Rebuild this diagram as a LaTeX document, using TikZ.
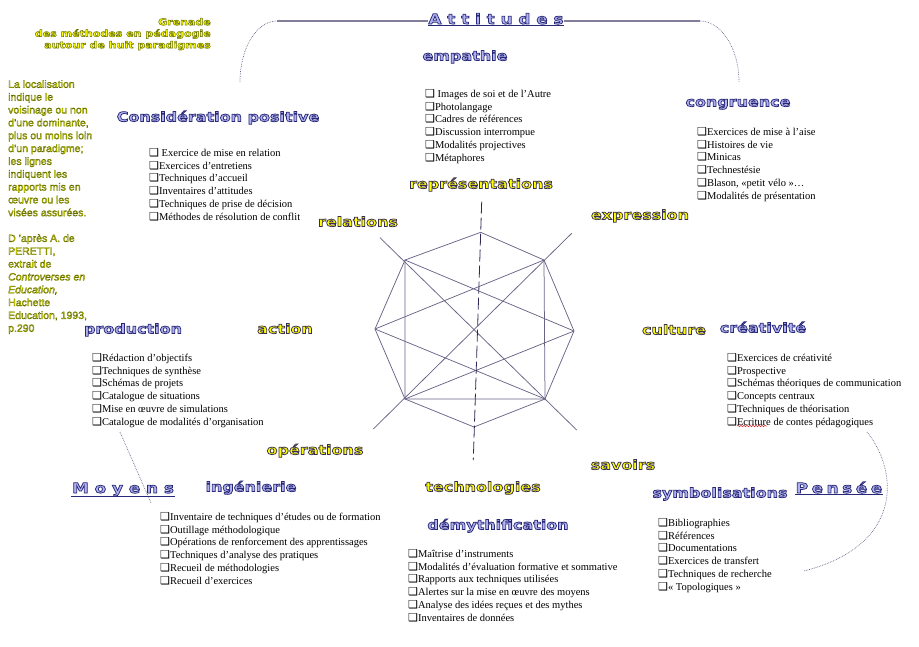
\documentclass[tikz,border=0pt]{standalone}
\usepackage{fontspec}
\usetikzlibrary{decorations.pathmorphing}
\setmainfont{Liberation Serif}
\newfontfamily\headfont[FakeStretch=1.2]{DejaVu Sans}
\newfontfamily\notefont{Liberation Sans}
\newfontfamily\symfont{DejaVu Sans}
\definecolor{lavfill}{RGB}{178,178,240}
\definecolor{yelfill}{RGB}{255,255,0}
\definecolor{notefill}{RGB}{235,235,0}
\definecolor{lavline}{RGB}{40,40,120}
\definecolor{linecol}{RGB}{105,100,135}
\definecolor{darkline}{RGB}{45,40,85}
\definecolor{topcol}{RGB}{130,126,155}
\definecolor{squig}{RGB}{220,40,40}
% outlined text: fill colour, stroke rgb, stroke width, text
\newcommand\outl[4]{{\color{#1}\special{pdf:literal direct 2 Tr #3 w #2 RG}#4\special{pdf:literal direct 0 Tr}}}
\newcommand\lav[1]{\outl{lavfill}{0.157 0.157 0.471}{0.75}{#1}}
\newcommand\yel[1]{\outl{yelfill}{0.216 0.176 0.314}{0.75}{#1}}
\newcommand\ttl[1]{\outl{yelfill}{0.373 0.412 0}{0.45}{#1}}
\newcommand\nte[1]{\outl{notefill}{0.373 0.412 0}{0.3}{#1}}
\newcommand\bx{{\symfont\fontsize{11}{11}\selectfont ❑}}
\newcommand\gp{\hspace{3.6pt}}
\begin{document}
\begin{tikzpicture}[x=1pt,y=-1pt,
  head/.style={font=\headfont\bfseries\fontsize{13.3}{16}\selectfont, inner sep=0, anchor=base},
  spaced/.style={font=\headfont\bfseries\fontsize{14}{18}\selectfont, inner sep=0.5pt, anchor=base},
  items/.style={font=\fontsize{10.5}{12.8}\selectfont, align=left, anchor=north west, inner sep=0},
  web/.style={draw=linecol, line width=0.75pt},
  vdash/.style={draw=darkline, line width=0.8pt, dash pattern=on 12pt off 4pt},
  bracket/.style={draw=linecol, line width=0.7pt, densely dotted},
  topline/.style={draw=topcol, line width=1.5pt},
  uline/.style={draw=lavline, line width=0.5pt}]
\useasboundingbox (0,0) rectangle (919,646);

% ---- web ----
\coordinate (T) at (480.7,232.3);
\coordinate (UR) at (544,260);
\coordinate (R) at (574,331);
\coordinate (LR) at (545,399);
\coordinate (B) at (474,427);
\coordinate (LL) at (405,399);
\coordinate (L) at (375,329);
\coordinate (UL) at (405,260);
\coordinate (ULx) at (380,237.7);
\coordinate (LRx) at (576.7,430);
\coordinate (URx) at (571.7,233.3);
\coordinate (LLx) at (373.3,429);
\coordinate (Vt) at (481.7,201.7);
\coordinate (Vb) at (473.3,460);
\draw[web] (T)--(UR)--(R)--(LR)--(B)--(LL)--(L)--(UL)--cycle;
\draw[web] (UL)--(LL)--(LR)--(UR);
\draw[web] (UL)--(R) (UR)--(L) (LL)--(R) (LR)--(L);
\draw[web] (ULx)--(LRx) (URx)--(LLx);
\draw[vdash] (Vt)--(Vb);

% ---- brackets ----
\coordinate (AtL) at (240,82);
\coordinate (AtLc) at (277,21);
\coordinate (AtRc) at (700,21);
\coordinate (AtR) at (739,82);
\draw[bracket] (AtL) .. controls (240,48) and (256.6,21) .. (AtLc);
\draw[topline] (AtLc) -- (AtRc);
\draw[bracket] (AtRc) .. controls (720.4,21) and (739,47.3) .. (AtR);
\coordinate (MoA) at (120,432);
\coordinate (MoB) at (151,503);
\draw[bracket] (MoA) -- (MoB);
\coordinate (PeA) at (867,432);
\coordinate (PeB) at (804,571);
\draw[bracket] (PeA) .. controls (898,470) and (905,545) .. (PeB);

% ---- spaced group titles ----
\node[spaced, fill=white] (att) at (496,24) {\lav{A t t i t u d e s}};
\draw[uline] (att.south west) -- (att.south east);
\node[spaced] (moy) at (123,493) {\lav{M o y e n s}};
\draw[uline] (moy.south west) -- (moy.south east);
\node[spaced] (pen) at (839,493) {\lav{P\gp e\gp n\gp s\gp é\gp e}};
\draw[uline] (pen.south west) -- (pen.south east);

% ---- top-left notes ----
\node[font=\headfont\bfseries\fontsize{9.2}{11.5}\selectfont, align=right, anchor=north east, inner sep=0] (title) at (211,18)
  {\ttl{Grenade}\\ \ttl{des méthodes en pédagogie}\\ \ttl{autour de huit paradigmes}};
\node[font=\notefont\fontsize{10.5}{12.84}\selectfont, align=left, anchor=north west, inner sep=0] (note) at (8,80)
  {\nte{La localisation}\\ \nte{indique le}\\ \nte{voisinage ou non}\\ \nte{d’une dominante,}\\
   \nte{plus ou moins loin}\\ \nte{d’un paradigme;}\\ \nte{les lignes}\\ \nte{indiquent les}\\
   \nte{rapports mis en}\\ \nte{œuvre ou les}\\ \nte{visées assurées.}\\ \mbox{}\\
   \nte{D ’après A. de}\\ \nte{PERETTI,}\\ \nte{extrait de}\\ \nte{\itshape Controverses en}\\
   \nte{\itshape Education,}\\ \nte{Hachette}\\ \nte{Education, 1993,}\\ \nte{p.290}};

% ---- headings ----
\node[head] (consid) at (218,121.5) {\lav{Considération positive}};
\node[head] (empa) at (465,60.5) {\lav{empathie}};
\node[head] (congr) at (738,106.5) {\lav{congruence}};
\node[head] (repr) at (481,188.5) {\yel{représentations}};
\node[head] (rela) at (358,226.5) {\yel{relations}};
\node[head] (expr) at (640,219.5) {\yel{expression}};
\node[head] (acti) at (285,333.5) {\yel{action}};
\node[head] (cult) at (674,334.5) {\yel{culture}};
\node[head] (crea) at (763,332.5) {\lav{créativité}};
\node[head] (prod) at (133,333.5) {\lav{production}};
\node[head] (oper) at (315,454.5) {\yel{opérations}};
\node[head] (savo) at (623,469.5) {\yel{savoirs}};
\node[head] (tech) at (483,491.5) {\yel{technologies}};
\node[head] (inge) at (251,491.5) {\lav{ingénierie}};
\node[head] (demy) at (498,529.5) {\lav{démythification}};
\node[head] (symb) at (720,497.5) {\lav{symbolisations}};

% ---- lists ----
\node[items] (lconsid) at (149,148) {\bx\ Exercice de mise en relation\\ \bx Exercices d’entretiens\\ \bx Techniques d’accueil\\ \bx Inventaires d’attitudes\\ \bx Techniques de prise de décision\\ \bx Méthodes de résolution de conflit};
\node[items] (lempa) at (425,89) {\bx\ Images de soi et de l’Autre\\ \bx Photolangage\\ \bx Cadres de références\\ \bx Discussion interrompue\\ \bx Modalités projectives\\ \bx Métaphores};
\node[items] (lcongr) at (697,127) {\bx Exercices de mise à l’aise\\ \bx Histoires de vie\\ \bx Minicas\\ \bx Technestésie\\ \bx Blason, «petit vélo »…\\ \bx Modalités de présentation};
\node[items] (lcrea) at (727,353) {\bx Exercices de créativité\\ \bx Prospective\\ \bx Schémas théoriques de communication\\ \bx Concepts centraux\\ \bx Techniques de théorisation\\ \bx Ecriture de contes pédagogiques};
\node[items] (lprod) at (92,353) {\bx Rédaction d’objectifs\\ \bx Techniques de synthèse\\ \bx Schémas de projets\\ \bx Catalogue de situations\\ \bx Mise en œuvre de simulations\\ \bx Catalogue de modalités d’organisation};
\node[items] (linge) at (160,512) {\bx Inventaire de techniques d’études ou de formation\\ \bx Outillage méthodologique\\ \bx Opérations de renforcement des apprentissages\\ \bx Techniques d’analyse des pratiques\\ \bx Recueil de méthodologies\\ \bx Recueil d’exercices};
\node[items] (ldemy) at (408,549) {\bx Maîtrise d’instruments\\ \bx Modalités d’évaluation formative et sommative\\ \bx Rapports aux techniques utilisées\\ \bx Alertes sur la mise en œuvre des moyens\\ \bx Analyse des idées reçues et des mythes\\ \bx Inventaires de données};
\node[items] (lsymb) at (658,518) {\bx Bibliographies\\ \bx Références\\ \bx Documentations\\ \bx Exercices de transfert\\ \bx Techniques de recherche\\ \bx « Topologiques »};
\coordinate (sqA) at (737,426);
\coordinate (sqB) at (767,426);
\draw[squig, line width=0.5pt, decorate, decoration={snake, amplitude=0.8pt, segment length=3pt}] (sqA) -- (sqB);
\end{tikzpicture}
\end{document}
